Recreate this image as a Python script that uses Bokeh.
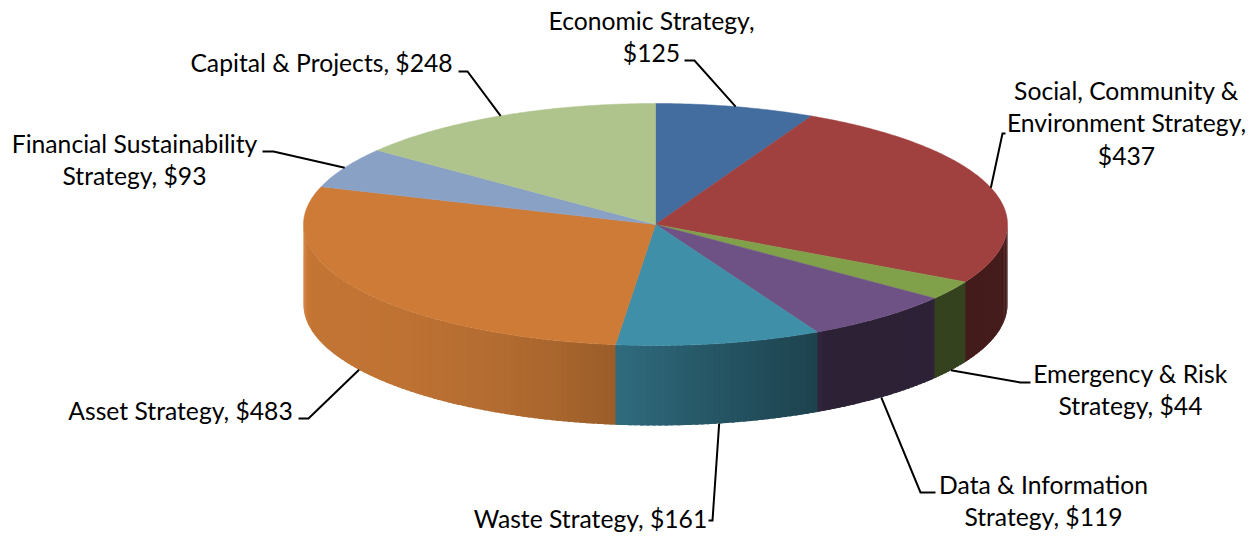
import numpy as np
from bokeh.plotting import figure
from bokeh.models import Range1d
from bokeh.core.properties import value
from bokeh.embed import file_html
from bokeh.resources import INLINE

# ---- data
categories = ["Economic Strategy", "Social, Community & Environment Strategy",
              "Emergency & Risk Strategy", "Data & Information Strategy",
              "Waste Strategy", "Asset Strategy",
              "Financial Sustainability Strategy", "Capital & Projects"]
amounts = [125, 437, 44, 119, 161, 483, 93, 248]
top_colors = ["#436C9F", "#A04140", "#80A04A", "#6E5285", "#3F8FA8", "#CD7B37", "#8AA1C6", "#AFC48C"]
label_lines = [["Economic Strategy,", "$125"],
               ["Social, Community &", "Environment Strategy,", "$437"],
               ["Emergency & Risk", "Strategy, $44"],
               ["Data & Information", "Strategy, $119"],
               ["Waste Strategy, $161"],
               ["Asset Strategy, $483"],
               ["Financial Sustainability", "Strategy, $93"],
               ["Capital & Projects, $248"]]

# ---- layout (page pixels)
CX, CY, RX, RY, DEPTH = 655.0, 224.0, 352.0, 121.0, 80.0
label_center_x = [651, 1126, 1130, 1043, 590, 180, 134, 321]
label_first_y = [19.5, 89.5, 372.5, 483.5, 517.5, 409.5, 142.5, 61.5]
line_step = 32.5
leader_elbow = [(694, 60), (1002, 133), (1020, 382), (920, 492), (712, 520), (308, 418), (273, 151), (467, 71)]
leader_end = [(684, 60), (1005, 133), (1030, 382), (935, 492), (708, 520), (298, 418), (262, 151), (458, 71)]

light_x = [303, 312, 400, 500, 560, 615, 700, 818, 825, 900, 1007]
light_f = [1.00, 0.95, 0.93, 0.87, 0.82, 0.75, 0.62, 0.46, 0.40, 0.40, 0.43]


def ex(t):
    return CX + RX * np.sin(np.radians(t))


def ey(t):
    return CY - RY * np.cos(np.radians(t))


def shade(hex_color, f):
    rgb = [int(hex_color[i:i + 2], 16) for i in (1, 3, 5)]
    return "#%02x%02x%02x" % tuple(int(round(c * f)) for c in rgb)


p = figure(width=1259, height=536, output_backend="svg", toolbar_location=None,
           x_range=Range1d(0, 1259), y_range=Range1d(536, 0),
           min_border=0, outline_line_color=None, background_fill_color="white")
p.xaxis.visible = False
p.yaxis.visible = False
p.grid.visible = False

total = sum(amounts)
edges = np.concatenate([[0], np.cumsum(amounts)]) / total * 360.0

sx, sy, sc = [], [], []
STEP = 1.0
for i in reversed(range(len(amounts))):
    a, b = max(edges[i], 90.0), min(edges[i + 1], 270.0)
    if b <= a:
        continue
    n = max(1, int(np.ceil((b - a) / STEP)))
    ts = np.linspace(b, a, n + 1)
    for k in range(n):
        t0, t1 = ts[k], max(ts[k + 1] - 0.6, 90.0)
        arc = np.linspace(t0, t1, 5)
        sx.append(list(ex(arc)) + list(ex(arc[::-1])))
        sy.append(list(ey(arc)) + list(ey(arc[::-1]) + DEPTH))
        mid = ex((ts[k] + ts[k + 1]) / 2)
        sc.append(shade(top_colors[i], float(np.interp(mid, light_x, light_f))))
p.patches(sx, sy, fill_color=sc, line_color=None)

for i in range(len(amounts)):
    arc = np.linspace(edges[i], edges[i + 1], max(3, int(edges[i + 1] - edges[i]) * 2))
    p.patch([CX] + list(ex(arc)), [CY] + list(ey(arc)),
            fill_color=top_colors[i], line_color=top_colors[i], line_width=0.5)

for i in range(len(amounts)):
    mid = (edges[i] + edges[i + 1]) / 2
    x0, y0 = ex(mid), ey(mid)
    if 90 < mid < 270:
        y0 += DEPTH
    p.line([x0, leader_elbow[i][0], leader_end[i][0]],
           [y0, leader_elbow[i][1], leader_end[i][1]],
           line_color="black", line_width=2, line_join="miter")

tx, ty, tt = [], [], []
for i, lines in enumerate(label_lines):
    for j, s in enumerate(lines):
        tx.append(label_center_x[i])
        ty.append(label_first_y[i] + j * line_step)
        tt.append(s)
p.text(tx, ty, text=tt, text_font=value("Lato"), text_font_size="24.7px",
       text_color="black", text_align="center", text_baseline="middle")

open("out.html", "w").write(file_html(p, INLINE))
